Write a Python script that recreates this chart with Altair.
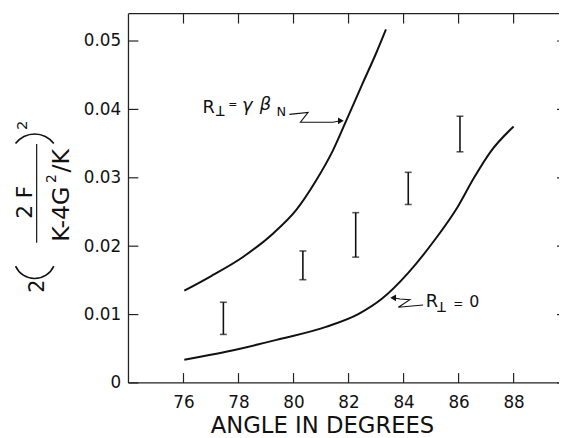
import math
import altair as alt
import pandas as pd

# ---------------- data ----------------
upper_angle = [76.03, 76.99, 78.19, 79.27, 80.10, 80.82, 81.42, 81.90, 82.50, 82.99, 83.36]
upper_value = [0.0135, 0.0156, 0.0185, 0.0219, 0.0253, 0.0296, 0.0339, 0.0382, 0.0437, 0.0481, 0.0517]

lower_angle = [76.03, 77.59, 79.38, 81.18, 82.37, 83.21, 84.17, 85.13, 85.96, 86.56, 87.16, 88.00]
lower_value = [0.0034, 0.0046, 0.0063, 0.0082, 0.0101, 0.0123, 0.0161, 0.0209, 0.0257, 0.0300, 0.0338, 0.0375]

err_angle = [77.45, 80.34, 82.26, 84.17, 86.05]
err_low = [0.0071, 0.0151, 0.0184, 0.0261, 0.0338]
err_high = [0.0118, 0.0193, 0.0249, 0.0308, 0.0390]

x_ticks = [76, 78, 80, 82, 84, 86, 88]
y_ticks = [0, 0.01, 0.02, 0.03, 0.04, 0.05]

# squiggly annotation arrows (data coordinates)
arrow1_angle = [79.85, 80.53, 80.25, 81.43, 81.72]
arrow1_value = [0.03927, 0.03956, 0.03812, 0.03812, 0.03833]
arrow2_angle = [84.71, 83.81, 84.23, 83.87, 83.62]
arrow2_value = [0.01141, 0.01107, 0.01217, 0.01227, 0.01245]

# ---------------- chart ----------------
FONT = "DejaVu Sans"
W, H = 436, 374
TICK = 10
INK = "#111111"
xs = alt.Scale(domain=[74, 89.65], nice=False, zero=False)
ys = alt.Scale(domain=[0, 0.054], nice=False, zero=False)

upper = pd.DataFrame({"angle": upper_angle, "value": upper_value})
lower = pd.DataFrame({"angle": lower_angle, "value": lower_value})
err = pd.DataFrame({"angle": err_angle, "low": err_low, "high": err_high})
caps = pd.DataFrame({"angle": err_angle + err_angle, "value": err_low + err_high})
arr1 = pd.DataFrame({"angle": arrow1_angle, "value": arrow1_value, "i": list(range(len(arrow1_angle)))})
arr2 = pd.DataFrame({"angle": arrow2_angle, "value": arrow2_value, "i": list(range(len(arrow2_angle)))})
heads = pd.DataFrame({"angle": [arrow1_angle[-1], arrow2_angle[-1]],
                      "value": [arrow1_value[-1], arrow2_value[-1]],
                      "shape": ["triangle-right", "triangle-left"]})
xt = pd.DataFrame({"angle": x_ticks})
yt = pd.DataFrame({"value": y_ticks})

ax_bottom = alt.Axis(orient="bottom", values=x_ticks, format="d", ticks=False, domain=False,
                     grid=False, labelFont=FONT, labelFontSize=17, labelColor=INK, labelPadding=12,
                     title="ANGLE IN DEGREES", titleFont=FONT, titleFontSize=23,
                     titleFontWeight="normal", titleColor=INK, titleX=196, titlePadding=4)
ax_left = alt.Axis(orient="left", values=y_ticks, ticks=False, domain=False, grid=False,
                   labelExpr="datum.value == 0 ? '0' : format(datum.value, '.2f')",
                   labelFont=FONT, labelFontSize=17, labelColor=INK, labelPadding=8, title=None)


def X(f="angle:Q"):
    return alt.X(f, scale=xs, axis=ax_bottom)


def Y(f="value:Q"):
    return alt.Y(f, scale=ys, axis=ax_left)


upper_line = alt.Chart(upper).mark_line(color=INK, strokeWidth=2, interpolate="monotone").encode(
    x=X(), y=Y())
lower_line = alt.Chart(lower).mark_line(color=INK, strokeWidth=2, interpolate="monotone").encode(
    x=X(), y=Y())

err_rule = alt.Chart(err).mark_rule(color=INK, strokeWidth=1.6).encode(
    x=X(), y=Y("low:Q"), y2="high:Q")
cap_ticks = alt.Chart(caps).mark_tick(color=INK, orient="horizontal", size=7, thickness=1.6).encode(
    x=X(), y=Y())


def squiggle(df):
    return alt.Chart(df).mark_line(color=INK, strokeWidth=1.1).encode(x=X(), y=Y(), order="i:Q")


arrow_heads = alt.Chart(heads).mark_point(filled=True, color=INK, size=45, opacity=1).encode(
    x=X(), y=Y(), shape=alt.Shape("shape:N", scale=None))

# inward ticks on all four sides
tick_style = dict(color="#222222", strokeWidth=1.2)
ticks = [
    alt.Chart(xt).mark_rule(**tick_style).encode(x=X(), y=alt.value(H), y2=alt.value(H - TICK)),
    alt.Chart(xt).mark_rule(**tick_style).encode(x=X(), y=alt.value(0), y2=alt.value(TICK)),
    alt.Chart(yt).mark_rule(**tick_style).encode(y=Y(), x=alt.value(0), x2=alt.value(TICK)),
    alt.Chart(yt).mark_rule(**tick_style).encode(y=Y(), x=alt.value(W - 2), x2=alt.value(W)),
]


def rule(**kw):
    return alt.Chart(pd.DataFrame({"a": [0]})).mark_rule(color="#222222", strokeWidth=1.3).encode(
        **{k: alt.value(v) for k, v in kw.items()})


frame = [rule(x=0, y=0, y2=H), rule(x=0, x2=W, y=H), rule(x=0, x2=W, y=0)]


def label(s, x, y, size, angle=0, align="left", baseline="alphabetic", style="normal"):
    return alt.Chart(pd.DataFrame({"t": [s]})).mark_text(
        align=align, baseline=baseline, font=FONT, fontSize=size, angle=angle,
        fontStyle=style, color=INK).encode(text="t:N", x=alt.value(x), y=alt.value(y))


def paren(cx, cy, r, t0, t1):
    return alt.Chart(pd.DataFrame({"a": [0]})).mark_arc(
        color=INK, radius=r, radius2=r - 1.6, theta=t0, theta2=t1).encode(
        x=alt.value(cx), y=alt.value(cy))


annotations = [
    label("R", 75, 101, 18), label("T", 93, 94, 14, angle=180, align="center"),
    label("=", 101, 96, 11),
    label("\u03b3", 115, 99, 18, style="italic"), label("\u03b2", 133, 98, 18, style="italic"),
    label("N", 150, 104, 13),
    label("R", 301, 297, 18), label("T", 317, 292, 14, angle=180, align="center"),
    label("=", 329, 298, 12), label("0", 345, 297, 16),
]

# rotated y-axis title: 2 ( 2F / (K-4G^2/K) )^2
rot = dict(angle=270, align="center", baseline="middle")
ytitle = [
    label("2", -92, 276, 21, **rot),
    paren(-95, 247, 22, math.pi - 1.15, math.pi + 1.15),
    label("2  F", -105, 191, 22, **rot),
    label("K-4G", -67, 203, 24, **rot),
    label("2", -77, 167, 14, **rot),
    label("/K", -67, 149, 24, **rot),
    paren(-95, 146, 25, 2 * math.pi - 0.93, 2 * math.pi + 0.93),
    label("2", -108, 113, 15, **rot),
    rule(x=-93, y=132, y2=232),
]

chart = alt.layer(
    upper_line, lower_line, err_rule, cap_ticks, squiggle(arr1), squiggle(arr2), arrow_heads,
    *ticks, *frame, *annotations, *ytitle
).properties(
    width=W, height=H,
    autosize=alt.AutoSizeParams(type="none"),
    padding={"left": 122, "top": 3, "right": 0, "bottom": 53},
).configure_view(stroke=None)

chart.save("out.html", embed_options={"renderer": "svg", "actions": False})
